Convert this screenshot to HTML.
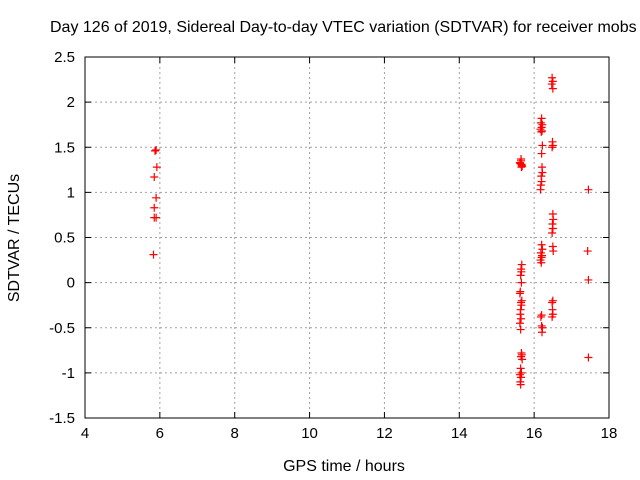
<!DOCTYPE html>
<html><head><meta charset="utf-8"><style>
body{margin:0;background:#fff;}
svg{display:block;font-family:"Liberation Sans",sans-serif;}
</style></head><body>
<svg id="chart" width="640" height="480">
<text x="50" y="32" font-size="16">Day 126 of 2019, Sidereal Day-to-day VTEC variation (SDTVAR) for receiver mobs</text>
<g id="grid"></g>
<g id="axes"></g>
<g id="marks"></g>
<text x="344" y="471" font-size="16" text-anchor="middle">GPS time / hours</text>
<text transform="translate(19,238) rotate(-90)" font-size="16" text-anchor="middle">SDTVAR / TECUs</text>
</svg>
<script>
const xTicks=[4,6,8,10,12,14,16,18];
const yTicks=[-1.5,-1,-0.5,0,0.5,1,1.5,2,2.5];
const yTickLabels=["-1.5","-1","-0.5","0","0.5","1","1.5","2","2.5"];
const hours=[5.9,5.87,5.92,5.85,5.9,5.85,5.85,5.9,5.83,
15.65,15.62,15.67,15.66,15.63,15.65,15.68,15.66,
15.67,15.65,15.66,15.64,15.66,15.63,15.62,15.67,15.65,15.66,15.64,15.63,15.65,15.62,15.64,
15.66,15.67,15.65,15.68,15.64,15.66,15.62,15.65,15.63,15.64,
16.2,16.18,16.22,16.2,16.17,16.21,16.19,16.22,16.2,16.21,16.22,16.19,16.2,16.18,16.17,
16.2,16.22,16.18,16.21,16.2,16.17,16.19,16.2,16.18,16.2,16.22,16.21,
16.48,16.5,16.47,16.5,16.49,16.5,16.48,
16.5,16.51,16.49,16.5,16.48,16.5,16.51,
16.5,16.48,16.49,16.5,16.48,
17.45,17.43,17.45,17.45];
const values=[1.47,1.46,1.28,1.17,0.94,0.83,0.72,0.72,0.31,
1.37,1.33,1.3,1.28,1.32,1.35,1.29,1.31,
0.2,0.15,0.12,0.08,0.0,-0.1,-0.12,-0.2,-0.22,-0.25,-0.3,-0.35,-0.4,-0.45,-0.52,
-0.78,-0.8,-0.82,-0.85,-0.95,-1.0,-1.02,-1.05,-1.1,-1.13,
1.82,1.77,1.75,1.72,1.7,1.68,1.67,1.52,1.43,1.28,1.22,1.18,1.12,1.08,1.03,
0.42,0.37,0.33,0.3,0.28,0.25,0.22,-0.36,-0.38,-0.48,-0.5,-0.55,
2.27,2.23,2.2,2.15,1.56,1.52,1.5,
0.76,0.7,0.65,0.6,0.55,0.4,0.35,
-0.2,-0.22,-0.3,-0.35,-0.38,
1.03,0.35,0.03,-0.83];
const X0=85,X1=609,Y0=418,Y1=57;
const sx=h=>X0+(h-4)/14*(X1-X0);
const sy=v=>Y0-(v+1.5)/4*(Y0-Y1);
const NS="http://www.w3.org/2000/svg";
function mk(tag,attrs,parent){const e=document.createElementNS(NS,tag);for(const k in attrs)e.setAttribute(k,attrs[k]);parent.appendChild(e);return e;}
const grid=document.getElementById('grid'),axes=document.getElementById('axes'),marks=document.getElementById('marks');
xTicks.forEach((t,i)=>{
  const x=sx(t);
  if(i>0&&i<xTicks.length-1){const l=mk('line',{x1:x,x2:x,y1:Y1,y2:Y0,stroke:'#a0a0a0','stroke-dasharray':'2,3'},grid);
  
  }
  mk('line',{x1:x,x2:x,y1:Y0,y2:Y0-6,stroke:'#000'},axes);
  mk('line',{x1:x,x2:x,y1:Y1,y2:Y1+6,stroke:'#000'},axes);
  const tx=mk('text',{x:x,y:Y0+20,'font-size':15,'text-anchor':'middle'},axes);
  tx.textContent=t;
  
  
});
yTicks.forEach((t,i)=>{
  const y=sy(t);
  if(i>0&&i<yTicks.length-1){const l=mk('line',{x1:X0,x2:X1,y1:y,y2:y,stroke:'#a0a0a0','stroke-dasharray':'2,3'},grid);
  
  }
  mk('line',{x1:X0,x2:X0+6,y1:y,y2:y,stroke:'#000'},axes);
  mk('line',{x1:X1,x2:X1-6,y1:y,y2:y,stroke:'#000'},axes);
  const tx=mk('text',{x:X0-10,y:y+5,'font-size':15,'text-anchor':'end'},axes);
  tx.textContent=yTickLabels[i];
  
  
});
mk('rect',{x:X0,y:Y1,width:X1-X0,height:Y0-Y1,fill:'none',stroke:'#000'},axes);
hours.forEach((h,i)=>{
  const x=sx(h),y=sy(values[i]);
  const p=mk('path',{d:`M${x-4},${y}H${x+4}M${x},${y-4}V${y+4}`,stroke:'#f00','stroke-width':1.2},marks);
  
  
});
</script>
</body></html>
